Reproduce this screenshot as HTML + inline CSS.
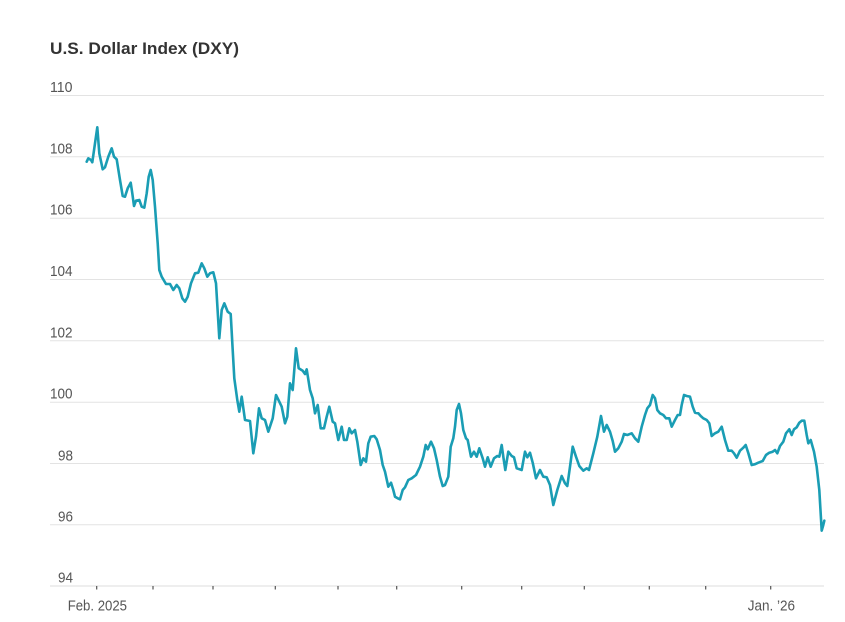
<!DOCTYPE html>
<html><head><meta charset="utf-8"><style>
html,body{margin:0;padding:0;background:#fff;}
svg{display:block;}
text{font-family:"Liberation Sans",sans-serif;}
</style></head><body>
<svg width="845" height="622" viewBox="0 0 845 622" xmlns="http://www.w3.org/2000/svg">
<rect width="845" height="622" fill="#fff"/>
<text x="50" y="54" font-size="17" font-weight="bold" fill="#333" textLength="189" lengthAdjust="spacingAndGlyphs">U.S. Dollar Index (DXY)</text>
<g stroke="#e3e3e3" stroke-width="1">
<line x1="50" x2="824" y1="95.5" y2="95.5"/>
<line x1="50" x2="824" y1="156.8" y2="156.8"/>
<line x1="50" x2="824" y1="218.2" y2="218.2"/>
<line x1="50" x2="824" y1="279.5" y2="279.5"/>
<line x1="50" x2="824" y1="340.8" y2="340.8"/>
<line x1="50" x2="824" y1="402.2" y2="402.2"/>
<line x1="50" x2="824" y1="463.5" y2="463.5"/>
<line x1="50" x2="824" y1="524.8" y2="524.8"/>
<line x1="50" x2="824" y1="586" y2="586" stroke="#dcdcdc"/>
</g>
<g font-size="15" fill="#555">
<text x="50" y="92" textLength="22.5" lengthAdjust="spacingAndGlyphs">110</text>
<text x="50" y="153.3" textLength="22.5" lengthAdjust="spacingAndGlyphs">108</text>
<text x="50" y="214.7" textLength="22.5" lengthAdjust="spacingAndGlyphs">106</text>
<text x="50" y="276" textLength="22.5" lengthAdjust="spacingAndGlyphs">104</text>
<text x="50" y="337.3" textLength="22.5" lengthAdjust="spacingAndGlyphs">102</text>
<text x="50" y="398.7" textLength="22.5" lengthAdjust="spacingAndGlyphs">100</text>
<text x="58" y="460.5" textLength="15" lengthAdjust="spacingAndGlyphs">98</text>
<text x="58" y="521.5" textLength="15" lengthAdjust="spacingAndGlyphs">96</text>
<text x="58" y="582.5" textLength="15" lengthAdjust="spacingAndGlyphs">94</text>
<text x="67.7" y="610.7" textLength="59.3" lengthAdjust="spacingAndGlyphs">Feb. 2025</text>
<text x="747.7" y="610.7" textLength="47.3" lengthAdjust="spacingAndGlyphs">Jan. ’26</text>
</g>
<g stroke="#555" stroke-width="1.2">
<line x1="96.7" x2="96.7" y1="586" y2="589.5"/>
<line x1="153" x2="153" y1="586" y2="589.5"/>
<line x1="213" x2="213" y1="586" y2="589.5"/>
<line x1="275.3" x2="275.3" y1="586" y2="589.5"/>
<line x1="338" x2="338" y1="586" y2="589.5"/>
<line x1="396.7" x2="396.7" y1="586" y2="589.5"/>
<line x1="461.7" x2="461.7" y1="586" y2="589.5"/>
<line x1="521.7" x2="521.7" y1="586" y2="589.5"/>
<line x1="584.3" x2="584.3" y1="586" y2="589.5"/>
<line x1="649.3" x2="649.3" y1="586" y2="589.5"/>
<line x1="705.7" x2="705.7" y1="586" y2="589.5"/>
<line x1="770.7" x2="770.7" y1="586" y2="589.5"/>
</g>
<polyline fill="none" stroke="#1a9db4" stroke-width="2.6" stroke-linejoin="round" stroke-linecap="round" points="
86.7,161.7 88.3,158.3 91,160 92.3,162.3 95,143.3 97.3,127.3 99.3,153.3 102.7,169.3 105,167.3 108.3,156.7 111.7,148.3 114,156.7 116.7,159.3 120,180 122.7,196 125,196.7 127.7,188.3 130.7,182.7 132.3,193.3 134,206 136,200.7 139.3,200 141.7,206.7 144.3,207.7 146.7,193.3 148.7,176.7 150.7,170 152.7,180 155,206.7 157.7,243.3 159.3,270 161.7,276.7 166,284 170,284 173.3,290 176.7,285 179.3,288.3 182.3,298.3 185,301.7 187.7,296.7 191,283.3 195,273.3 198.3,272.7 201.7,263.3 204.3,268.3 207.3,276.7 210,273.3 213.3,272.3 216,283.3 219.3,338.3 221.7,310 224.3,303.3 227.7,311.7 230.7,314
232.7,350 234.3,378.3 237.3,400 239.3,411.7 241.7,396.7 245,420 250,421 253.3,453.3 256,436.7 259,408.3 261.7,418.3 265,420 268.3,431.7 272.7,418.3 276,395 279.3,401.7 281.7,406.7 285,423.3 287.3,416.7 290,383.3 292.7,390 296,348.3 298.7,368.3 302.7,370.7 305,374 306.7,369.3 310,390 312.7,398.3 315,413.3 317.7,405 320.7,428.3 324,428.3 326.7,416.7 329.3,406.7
332.7,421.7 335,423.3 338.3,440 341.7,426.7 344,440 346.7,440 349.3,428.3 351.7,433.3 355,430 357.3,441.7 360.7,465 363.3,458.3 366,461.7 368.3,443.3 370.7,436.7 374.3,436 376.7,439.3 380,450 382.7,465 385,471.7 388.3,486.7 391,482.7 393.3,490 395,496.7 397.7,498.3 400,499.3 402.7,490 405,487.3 408.3,480 411.7,478.3 416,475 420,466.7 423.3,456.7 425.7,445 427.7,449.3 431,441.7 434,448.3 436.7,460 440,476.7 442.7,486 445,485 448.3,476.7 450.7,446.7 453.3,438.3 455,426.7 456.7,410 459,404 461,413.3 463.3,430 466,438.3 467.7,440 471,456.7
474,451.7 476.7,456.7 479.3,448.3 482.7,458.3 485,466.7 487.7,457.3 490.7,466.7 494,458.3 497.3,456 499.3,456.7 501.7,445 503.3,456.7 505.3,470 508.3,451.7 511.7,456 514,457.3 516.7,468.3 521.7,470 525,451.7 527.3,457.3 530,452.7 532.7,462.7 536,478.3 540,470 543.3,476.7 546.7,477.3 550,485 553.3,505 557.3,490 561.7,476 565,483.3 567.3,486 570,466.7 572.7,446.7 576,456.7 579.3,466 583.3,470.7 586.7,468.3 589,470 593.3,453.3 597.3,436.7 601,416 604,431.7 606.7,425 610,431.7 612.7,441 615,451.7 618.3,448.3 621.7,441.7 624,434 627.3,435 631.7,433.3 635,438.3 638.3,441.7 641.7,426.7 645,415 647.3,408.3 650,405 652.7,395 655,398.3 657.3,410 660,413.3 663.3,415 666,418.3 669.3,418.3 671.7,426.7 675,420 677.7,415 680,415 681.7,405 684,395 686.7,396 690,396.7 692.7,406.7 695,412.7 698.3,413.3 700.7,416 703.3,418.3 706.7,420 709.3,423.3 711.7,436 715,433.3 718.3,431.7 721.7,426.7 725,440 728.3,450.7 731.7,450.7 734,453.3 736.7,457.7 740,450.7 743.3,447.7 745.7,445 748.3,453 751.7,465 755,464.2 758.3,462.7 762.7,461 766,455 769.3,452.7 772.7,451.7 775,450 777.3,453.3 780,446 783.3,441.7 786,433.3 789.3,429.3 791.7,435 794,429.3 796.7,427.3 799.3,422.7 801.7,420.7 804.3,420.7 806.7,435 808.3,443.3 810.7,440 814,451.7 816.7,466.7 819.3,490 821.7,530.7 823.3,525 824.3,520.7"/>
</svg>
</body></html>
